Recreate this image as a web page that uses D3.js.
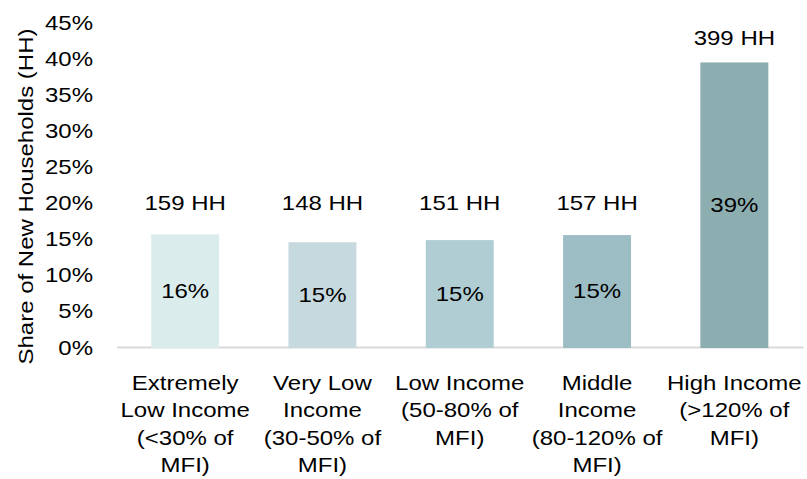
<!DOCTYPE html>
<html>
<head>
<meta charset="utf-8">
<script src="https://cdn.jsdelivr.net/npm/d3@7"></script>
<style>
  html, body { margin: 0; padding: 0; background: #fff; }
  svg text { font-family: "Liberation Sans", Arial, sans-serif; fill: #000; }
</style>
</head>
<body>
<svg id="chart" width="807" height="479"></svg>
<script>
const categories = [
  ["Extremely", "Low Income", "(<30% of", "MFI)"],
  ["Very Low", "Income", "(30-50% of", "MFI)"],
  ["Low Income", "(50-80% of", "MFI)"],
  ["Middle", "Income", "(80-120% of", "MFI)"],
  ["High Income", "(>120% of", "MFI)"]
];
const shareValues = [15.6, 14.5, 14.8, 15.5, 39.4];
const shareLabels = ["16%", "15%", "15%", "15%", "39%"];
const householdLabels = ["159 HH", "148 HH", "151 HH", "157 HH", "399 HH"];
const barColors = ["#dbecec", "#c5d9de", "#afcdd2", "#9dbdc5", "#8daeb0"];
const yTicks = [0, 5, 10, 15, 20, 25, 30, 35, 40, 45];
const yTitle = "Share of New Households (HH)";

const FS = 20, SX = 1.2;
const svg = d3.select("#chart");

const y = d3.scaleLinear().domain([0, 45]).range([347, 22]);
const x = d3.scaleBand().domain(d3.range(categories.length))
  .range([116.5, 803]).paddingInner(0.505).paddingOuter(0.2525);

// Y axis (labels only)
const yAxis = svg.append("g").attr("transform", "translate(93,0)")
  .call(d3.axisLeft(y).tickValues(yTicks).tickSize(0).tickPadding(0).tickFormat(d => d + "%"));
yAxis.select(".domain").remove();
yAxis.attr("font-size", null).attr("font-family", null);
yAxis.selectAll("text")
  .attr("x", 0).attr("dy", "0.35em")
  .style("font-size", FS + "px")
  .attr("transform", `scale(${SX},1)`);

// Y title
svg.append("text")
  .attr("transform", `translate(33,196.5) rotate(-90) scale(${SX},1)`)
  .attr("text-anchor", "middle")
  .style("font-size", FS + "px")
  .text(yTitle);

// X axis baseline
const xAxis = svg.append("g").attr("transform", `translate(0,${y(0)})`)
  .call(d3.axisBottom(x).tickSize(0).tickSizeOuter(0).tickFormat(""));
xAxis.select(".domain").attr("stroke", "#d9d9d9").attr("stroke-width", 2);
xAxis.selectAll(".tick text").remove();

// Bars
svg.append("g").selectAll("rect").data(shareValues).join("rect")
  .attr("x", (d, i) => x(i))
  .attr("width", x.bandwidth())
  .attr("y", d => y(d))
  .attr("height", d => y(0) - y(d) + 1)
  .attr("fill", (d, i) => barColors[i]);

// Inside labels
svg.append("g").selectAll("text").data(shareValues).join("text")
  .attr("transform", (d, i) => `translate(${x(i) + x.bandwidth() / 2},${(y(d) + y(0)) / 2}) scale(${SX},1)`)
  .attr("text-anchor", "middle").attr("dy", "0.35em")
  .style("font-size", FS + "px")
  .text((d, i) => shareLabels[i]);

// HH labels above bars
svg.append("g").selectAll("text").data(shareValues).join("text")
  .attr("transform", (d, i) => {
    const base = d < 20 ? y(20) + 7 : y(d) - 17;
    return `translate(${x(i) + x.bandwidth() / 2},${base}) scale(${SX},1)`;
  })
  .attr("text-anchor", "middle")
  .style("font-size", FS + "px")
  .text((d, i) => householdLabels[i]);

// Category labels (multi-line)
const cat = svg.append("g").selectAll("text").data(categories).join("text")
  .attr("transform", (d, i) => `translate(${x(i) + x.bandwidth() / 2},390) scale(${SX},1)`)
  .attr("text-anchor", "middle")
  .style("font-size", FS + "px");
cat.selectAll("tspan").data(d => d).join("tspan")
  .attr("x", 0)
  .attr("y", (d, j) => j * 27.5)
  .text(d => d);
</script>
</body>
</html>
